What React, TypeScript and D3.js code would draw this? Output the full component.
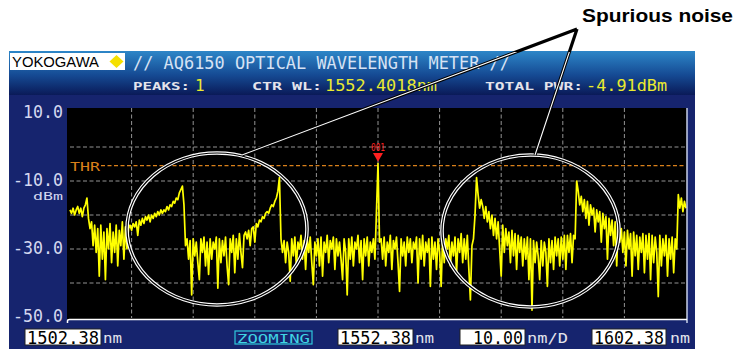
import React from 'react';
import * as d3 from 'd3';

const W = 736;
const H = 349;

// wavelength axis (nm)
const startNm = 1502.38;
const endNm = 1602.38;
const stepNm = 0.25;
const xGridNm = [1512.38, 1522.38, 1532.38, 1542.38, 1552.38, 1562.38, 1572.38, 1582.38, 1592.38];

// level axis (dBm)
const yMin = -50;
const yMax = 10;
const yGridDbm = [0, -10, -20, -30, -40];
const yLabelDbm = [10, -10, -30, -50];
const thrDbm = -5.5;

// peak
const peakNm = 1552.38;
const peakDbm = -4.91;

// spectrum trace, one value every 0.25 nm from 1502.38 nm
const traceDbm = [
  -18.5, -19.5, -18, -20, -18.5, -17.5, -19.5, -18, -20.5, -18, -17, -15, -21, -24, -22, -29, -23, -31, -24, -38,
  -23, -33, -25, -39, -24, -30, -22.5, -34, -25, -31, -23, -35, -24.5, -29, -22, -33, -23.5, -30, -24, -23,
  -24.5, -22.5, -23.5, -22, -26, -21.5, -23, -21, -22.5, -20.5, -21.5, -20, -22, -20, -21, -19.5, -20.5, -19, -20, -18.5,
  -19.5, -18.5, -19, -17.5, -18.5, -17, -17.5, -16, -16.5, -15, -15.5, -13.5, -12.5, -11.5, -17, -29, -27, -33, -27.5, -43.5,
  -27, -32, -28, -34, -39, -27, -31, -26.5, -35, -28, -37.5, -27, -33, -28, -30, -26.5, -41.5, -27, -34, -27.5,
  -32, -26.5, -35, -40.5, -27, -31, -26, -37, -27, -33, -25.5, -31, -35.5, -26, -25, -27, -24.5, -29, -24, -23.5,
  -28, -22.5, -23.5, -21.5, -22, -20.5, -21, -19.5, -19, -19.5, -18, -17, -17.5, -16, -15, -13, -9, -27, -31, -27.5,
  -34, -28, -31, -39.5, -27, -32, -26.5, -35, -28, -30, -26, -33, -27.5, -36, -27, -31, -26.5, -34, -40.5, -28,
  -32, -27, -35, -26.5, -38, -28, -31, -26, -34, -27.5, -30, -26.5, -36, -27, -32, -28, -33, -39, -27, -31,
  -43.5, -27, -33, -26.5, -35, -28, -30, -26, -34, -27.5, -39, -27, -32, -26.5, -35, -28, -31, -27, -33, -19,
  -4.9, -28, -27, -33, -26.5, -35, -28, -31, -26, -36, -27.5, -30, -26.5, -34, -42.5, -27, -32, -28, -35, -26.5,
  -31, -27, -34, -28, -30, -26.5, -40, -27, -33, -26, -35, -28, -31, -27, -41, -26.5, -33, -28, -36, -27,
  -31, -41, -26.5, -34, -27, -30, -26, -35, -28, -32, -26.5, -37, -27, -31, -25.5, -34, -27, -33, -26, -36,
  -45, -29, -27, -20, -9, -14, -18, -15.5, -17.5, -21, -17.5, -22, -19, -24, -20, -26, -21, -27, -22, -30,
  -38, -23, -31, -24, -29, -25, -34, -24.5, -32, -25.5, -36, -26, -31, -26.5, -35, -27, -33, -26.5, -39, -27,
  -48, -27.5, -34, -28, -32, -39, -27.5, -35, -28, -31, -41, -27, -34, -27.5, -36, -26.5, -32, -27, -35, -26.5,
  -33, -26, -36, -26, -31, -25.5, -34, -26, -27, -10, -13, -17, -14.5, -19, -15.5, -21, -16, -23, -17, -20,
  -18, -25, -18.5, -22, -19, -28, -19.5, -24, -20.5, -33, -21, -26, -21.5, -29, -22, -35, -23, -28, -24, -31,
  -25, -35, -24.5, -30, -25.5, -38, -25, -32, -26, -36, -26.5, -31, -25.5, -37, -26, -33, -25.5, -39, -26, -34,
  -26.5, -31, -44, -26, -35, -27, -32, -26, -38, -27, -33, -26.5, -37, -27, -30, -14, -18, -15, -19, -16,
  -18,
];

// header / footer texts
const titleText = '// AQ6150 OPTICAL WAVELENGTH METER //';
const peaksValue = '1';
const ctrWlValue = '1552.4018nm';
const totalPwrValue = '-4.91dBm';
const startLabel = '1502.38';
const centerLabel = '1552.38';
const spanLabel = '10.00';
const stopLabel = '1602.38';

const mono = "'DejaVu Sans Mono', monospace";

export default function App() {
  const x = d3.scaleLinear().domain([startNm, endNm]).range([70, 686]);
  const y = d3.scaleLinear().domain([yMin, yMax]).range([317, 113]);
  const pts: [number, number][] = traceDbm.map((v, i) => [startNm + i * stepNm, v]);
  const line = d3.line<[number, number]>().x((d) => x(d[0])).y((d) => y(d[1]));
  const px = x(peakNm);
  const py = y(peakDbm);

  const boxText = (bx: number, bw: number, txt: string, tl: number) => (
    <g>
      <rect x={bx} y={329} width={bw} height={16} fill="#fff" stroke="#222" strokeWidth={1} />
      <text x={bx + bw - 2} y={343.5} textAnchor="end" fontFamily={mono} fontSize={17} fill="#000"
        textLength={tl} lengthAdjust="spacingAndGlyphs">{txt}</text>
    </g>
  );

  return (
    <svg width={W} height={H} style={{ position: 'absolute', left: 0, top: 0, background: '#fff' }}>
      <defs>
        <linearGradient id="hdr" x1="0" y1="0" x2="0" y2="1">
          <stop offset="0" stopColor="#2d86c8" />
          <stop offset="0.55" stopColor="#154a93" />
          <stop offset="1" stopColor="#0a1a58" />
        </linearGradient>
        <clipPath id="panelClip"><rect x={0} y={52} width={W} height={H} /></clipPath>
      </defs>
      <rect x={0} y={0} width={W} height={H} fill="#fff" />
      {/* instrument panel */}
      <rect x={9} y={95} width={686} height={254} fill="#16246e" />
      <rect x={9} y={51} width={686} height={44} fill="url(#hdr)" />

      {/* logo */}
      <rect x={10} y={53} width={115} height={17} fill="#fff" />
      <text x={12} y={67} fontFamily="'Liberation Sans', Arial, sans-serif" fontSize={15} fill="#000"
        textLength={87} lengthAdjust="spacingAndGlyphs">YOKOGAWA</text>
      <path d="M116.5,55 L123.5,61.5 L116.5,68 L109.5,61.5 Z" fill="#f5e000" />

      {/* title */}
      <text x={133} y={69} fontFamily={mono} fontSize={17} fill="#d6e2f4" textLength={377}
        lengthAdjust="spacingAndGlyphs">{titleText}</text>

      {/* status line */}
      <text x={133} y={90} fontFamily={mono} fontSize={11} fontWeight="bold" fill="#e4e4ec" textLength={57}
        lengthAdjust="spacingAndGlyphs">PEAKS:</text>
      <text x={195} y={91} fontFamily={mono} fontSize={16} fill="#eaea30">{peaksValue}</text>
      <text x={252} y={90} fontFamily={mono} fontSize={11} fontWeight="bold" fill="#e4e4ec" textLength={70}
        lengthAdjust="spacingAndGlyphs">CTR WL:</text>
      <text x={325} y={91} fontFamily={mono} fontSize={16} fill="#eaea30" textLength={112}
        lengthAdjust="spacingAndGlyphs">{ctrWlValue}</text>
      <text x={485} y={90} fontFamily={mono} fontSize={11} fontWeight="bold" fill="#e4e4ec" textLength={98}
        lengthAdjust="spacingAndGlyphs">TOTAL PWR:</text>
      <text x={586} y={91} fontFamily={mono} fontSize={16} fill="#eaea30" textLength={81}
        lengthAdjust="spacingAndGlyphs">{totalPwrValue}</text>

      {/* plot area */}
      <rect x={67} y={108} width={620} height={212} fill="#000" />
      {xGridNm.map((v) => (
        <line key={'vx' + v} x1={x(v)} x2={x(v)} y1={108} y2={318} stroke="#939393" strokeWidth={1}
          strokeDasharray="4,2.5" />
      ))}
      {yGridDbm.map((v) => (
        <line key={'hy' + v} x1={70} x2={686} y1={y(v)} y2={y(v)} stroke="#939393" strokeWidth={1}
          strokeDasharray="4,2.5" />
      ))}
      {/* threshold */}
      <line x1={101} x2={686} y1={y(thrDbm)} y2={y(thrDbm)} stroke="#d9801a" strokeWidth={1.2}
        strokeDasharray="4,2.5" />
      <text x={70} y={y(thrDbm) + 5} fontFamily={mono} fontSize={12} fill="#d9801a" textLength={30}
        lengthAdjust="spacingAndGlyphs">THR</text>

      {/* trace */}
      <path d={line(pts) || ''} fill="none" stroke="#ffff00" strokeWidth={1.7} strokeLinejoin="round" />

      {/* peak marker */}
      <text x={px} y={151} textAnchor="middle" fontFamily={mono} fontSize={11} fill="#ff2020" textLength={14}
        lengthAdjust="spacingAndGlyphs">001</text>
      <path d={`M${px - 5},153 L${px + 5},153 L${px},${py - 2} Z`} fill="#ff2020" />

      {/* frame */}
      <line x1={687} x2={687} y1={108} y2={323} stroke="#c8d0ea" strokeWidth={1.5} />
      <path d="M67.5,323 L67.5,321 Q67.5,319.5 69.5,319.5 L687,319.5" fill="none" stroke="#fff" strokeWidth={1.5} />

      {/* y labels */}
      {yLabelDbm.map((v) => (
        <text key={'yl' + v} x={63} y={y(v) + 5} textAnchor="end" fontFamily={mono} fontSize={18} fill="#d4d8f0"
          textLength={v.toFixed(1).length * 10} lengthAdjust="spacingAndGlyphs">{v.toFixed(1)}</text>
      ))}
      <text x={63} y={200} textAnchor="end" fontFamily={mono} fontSize={10} fill="#d4d8f0" textLength={30}
        lengthAdjust="spacingAndGlyphs">dBm</text>

      {/* bottom bar */}
      {boxText(25, 76, startLabel, 72)}
      <text x={103} y={343} fontFamily={mono} fontSize={14} fill="#e4e4ec" textLength={19}
        lengthAdjust="spacingAndGlyphs">nm</text>
      <rect x={235} y={331} width={77} height={13} fill="none" stroke="#30c8dc" strokeWidth={1.2} />
      <text x={237} y={342.5} fontFamily={mono} fontSize={13} fill="#40d4e4" textLength={73}
        lengthAdjust="spacingAndGlyphs">ZOOMING</text>
      {boxText(338, 75, centerLabel, 71)}
      <text x={415} y={343} fontFamily={mono} fontSize={14} fill="#e4e4ec" textLength={19}
        lengthAdjust="spacingAndGlyphs">nm</text>
      {boxText(460, 65, spanLabel, 50)}
      <text x={527} y={343} fontFamily={mono} fontSize={14} fill="#e4e4ec" textLength={41}
        lengthAdjust="spacingAndGlyphs">nm/D</text>
      {boxText(592, 74, stopLabel, 70)}
      <text x={670} y={343} fontFamily={mono} fontSize={14} fill="#e4e4ec" textLength={20}
        lengthAdjust="spacingAndGlyphs">nm</text>

      {/* annotations */}
      <ellipse cx={217} cy={229} rx={90} ry={76} fill="none" stroke="#fff" strokeWidth={3.6} />
      <ellipse cx={217} cy={229} rx={90} ry={76} fill="none" stroke="#000" strokeWidth={1.2} />
      <ellipse cx={530.5} cy={231} rx={88.5} ry={76} fill="none" stroke="#fff" strokeWidth={3.6} />
      <ellipse cx={530.5} cy={231} rx={88.5} ry={76} fill="none" stroke="#000" strokeWidth={1.2} />

      <path d="M577,29 L242,155 M577,29 L535,155" fill="none" stroke="#000" strokeWidth={3.2} />
      <path d="M577,29 L242,155 M577,29 L535,155" fill="none" stroke="#fff" strokeWidth={1.1}
        clipPath="url(#panelClip)" />
      <text x={582} y={22} fontFamily="'Liberation Sans', Arial, sans-serif" fontWeight="bold" fontSize={17.5}
        fill="#000" textLength={151} lengthAdjust="spacingAndGlyphs">Spurious noise</text>
    </svg>
  );
}
